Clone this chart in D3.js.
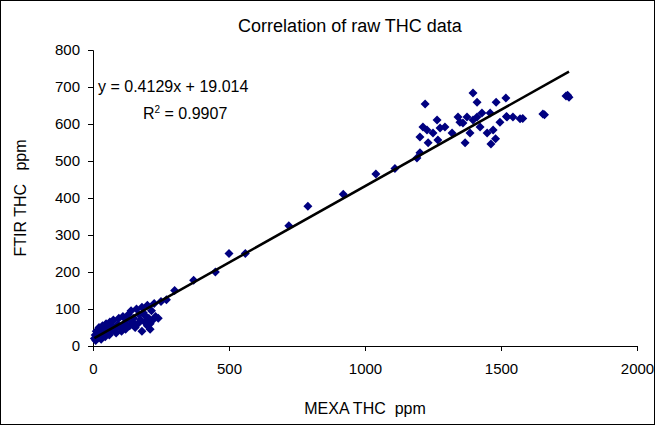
<!DOCTYPE html>
<html><head><meta charset="utf-8">
<script src="https://cdn.jsdelivr.net/npm/d3@7"></script>
<style>body{margin:0;background:#fff;font-family:Arial,"Liberation Sans",sans-serif;} text{white-space:pre;}</style>
</head><body><div id="chart"></div>
<script>
const mexa = [5,8,10,12,15,18,20,22,25,28,30,32,35,38,40,45,48,50,55,60,62,65,70,75,80,85,90,95,100,105,110,115,120,125,130,135,140,145,150,155,160,165,170,175,180,185,190,195,200,205,210,215,220,225,230,240,250,180,200,210,
  270,300,370,450,500,560,720,790,920,1040,1110,
  1221,1397,1412,1482,1518,1739,1654,1570,1544,1522,1496,1460,1430,1412,1375,1342,1360,1386,1368,1463,1471,1449,1423,1265,1294,1320,1213,1202,1250,1268,1232,1202,1191,1228,1276,1349,1397,1750,1745,1520,1480,1660,1580];
const ftir = [20,30,15,40,25,35,22,50,28,45,18,38,55,30,42,25,60,35,48,30,65,40,52,70,45,35,58,75,50,40,80,60,45,70,85,55,95,65,75,50,100,60,85,70,105,90,65,80,110,75,60,95,70,115,80,75,120,40,55,45,
  125,150,178,200,250,250,325,378,410,465,480,
  654,684,659,659,670,676,627,614,619,619,605,630,630,619,619,619,603,576,549,546,584,576,592,611,592,576,592,565,576,557,549,522,508,584,589,605,611,672,678,620,560,625,615];
const xTicks = [0,500,1000,1500,2000];
const yTicks = [0,100,200,300,400,500,600,700,800];
const slope = 0.4129, intercept = 19.014;

const W = 655, H = 425;
const svg = d3.select("#chart").append("svg").attr("width", W).attr("height", H);
svg.append("rect").attr("x",0.5).attr("y",0.5).attr("width",W-1).attr("height",H-1).attr("fill","none").attr("stroke","#000");

const x = d3.scaleLinear().domain([0,2000]).range([93,637]);
const y = d3.scaleLinear().domain([0,800]).range([346,50]);

const gx = svg.append("g").attr("transform","translate(0,346)").call(d3.axisBottom(x).tickValues(xTicks).tickFormat(d3.format("d")).tickSize(5).tickPadding(12));
const gy = svg.append("g").attr("transform","translate(93,0)").call(d3.axisLeft(y).tickValues(yTicks).tickSize(5).tickPadding(8));
[gx,gy].forEach(g=>{g.select(".domain").attr("stroke","#000");g.selectAll("line").attr("stroke","#000");g.selectAll("text").attr("font-size",15).attr("font-family","Arial, Liberation Sans").attr("fill","#000");});

const pts = mexa.map((m,i)=>({m, f: ftir[i]}));
svg.append("g").selectAll("path").data(pts).join("path")
  .attr("d", "M0,-4.5L4.5,0L0,4.5L-4.5,0Z")
  .attr("transform", d=>`translate(${x(d.m)},${y(d.f)})`)
  .attr("fill","#000080");

svg.append("line").attr("x1",x(5)).attr("y1",y(slope*5+intercept))
  .attr("x2",x(1750)).attr("y2",y(slope*1750+intercept)).attr("stroke","#000").attr("stroke-width",2.5);

svg.append("text").attr("x",350).attr("y",32).attr("text-anchor","middle").attr("font-size",18).text("Correlation of raw THC data");
svg.append("text").attr("x",98).attr("y",92).attr("font-size",16).text("y = 0.4129x + 19.014");
const r = svg.append("text").attr("x",143).attr("y",119).attr("font-size",16);
r.append("tspan").text("R");
r.append("tspan").attr("dy",-6).attr("font-size",10).text("2");
r.append("tspan").attr("dy",6).text(" = 0.9907");
svg.append("text").attr("x",365).attr("y",414).attr("text-anchor","middle").attr("font-size",16).text("MEXA THC  ppm");
svg.append("text").attr("transform","translate(26,198) rotate(-90)").attr("text-anchor","middle").attr("font-size",16).text("FTIR THC   ppm");
</script></body></html>
